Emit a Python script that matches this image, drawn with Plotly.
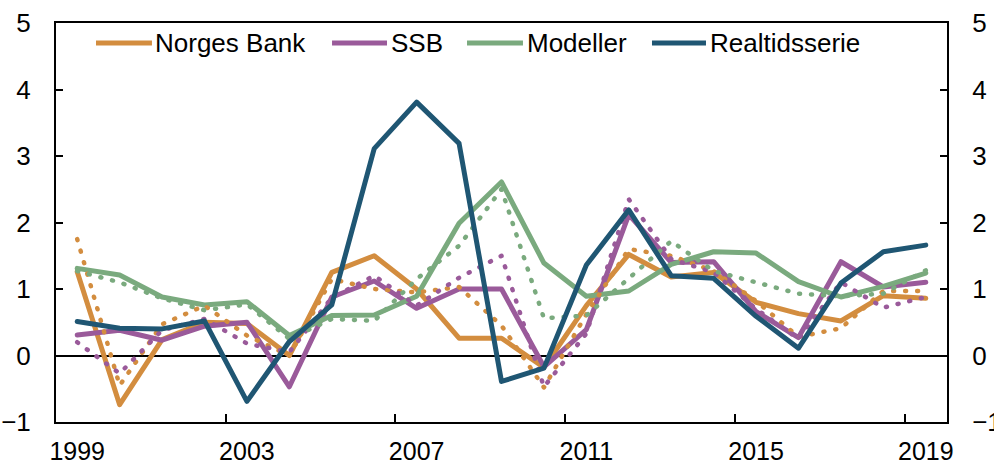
import plotly.graph_objects as go

years = list(range(1999, 2020))
tick_years = [1999, 2003, 2007, 2011, 2015, 2019]
tick_bounds = [2002.5, 2006.5, 2010.5, 2014.5, 2018.5]

norges_bank = [1.26, -0.74, 0.24, 0.5, 0.48, 0.0, 1.25, 1.5, 1.0, 0.26, 0.26, -0.18, 0.75, 1.52, 1.18, 1.25, 0.8, 0.63, 0.52, 0.9, 0.86]
ssb = [0.31, 0.38, 0.23, 0.44, 0.5, -0.47, 0.88, 1.12, 0.71, 1.0, 1.0, -0.17, 0.39, 2.12, 1.4, 1.41, 0.66, 0.27, 1.41, 1.03, 1.1]
modeller = [1.31, 1.21, 0.88, 0.76, 0.81, 0.3, 0.6, 0.61, 0.89, 1.99, 2.61, 1.39, 0.89, 0.97, 1.37, 1.56, 1.54, 1.11, 0.88, 1.04, 1.24]
realtid = [0.51, 0.41, 0.4, 0.52, -0.69, 0.21, 0.76, 3.11, 3.81, 3.19, -0.39, -0.19, 1.36, 2.19, 1.2, 1.16, 0.59, 0.11, 1.09, 1.56, 1.66]

norges_bank_dot = [1.75, -0.45, 0.47, 0.75, 0.3, 0.0, 1.15, 1.0, 0.95, 1.03, 0.45, -0.48, 0.62, 1.6, 1.5, 1.27, 0.82, 0.28, 0.41, 0.97, 0.97]
ssb_dot = [0.2, -0.27, 0.38, 0.55, 0.18, 0.05, 0.87, 1.2, 0.75, 1.17, 1.5, -0.47, 0.33, 2.35, 1.45, 1.25, 0.7, 0.25, 1.1, 0.72, 0.88]
modeller_dot = [1.27, 1.1, 0.86, 0.68, 0.77, 0.25, 0.55, 0.52, 1.15, 1.65, 2.5, 0.56, 0.6, 1.17, 1.72, 1.27, 1.1, 0.93, 0.89, 0.93, 1.28]

names = ["Norges Bank", "SSB", "Modeller", "Realtidsserie"]
colors = ["#D38D3F", "#9A5A9A", "#7AAA7E", "#1F5673"]

FONT = "Liberation Sans, Arial, sans-serif"
FS = 26

fig = go.Figure()
dot = dict(width=4.5, dash="1px,11px")
fig.add_trace(go.Scatter(x=years, y=norges_bank, mode="lines", line=dict(color=colors[0], width=5)))
fig.add_trace(go.Scatter(x=years, y=ssb, mode="lines", line=dict(color=colors[1], width=5)))
fig.add_trace(go.Scatter(x=years, y=modeller, mode="lines", line=dict(color=colors[2], width=5)))
fig.add_trace(go.Scatter(x=years, y=norges_bank_dot, mode="lines", line=dict(color=colors[0], **dot)))
fig.add_trace(go.Scatter(x=years, y=ssb_dot, mode="lines", line=dict(color=colors[1], **dot)))
fig.add_trace(go.Scatter(x=years, y=modeller_dot, mode="lines", line=dict(color=colors[2], **dot)))
fig.add_trace(go.Scatter(x=years, y=realtid, mode="lines", yaxis="y2",
                         line=dict(color=colors[3], width=5)))

# manual legend (long line samples as in the original)
leg_y = 0.95
leg = [(0.0449, 0.1077, 0.1111), (0.3098, 0.3715, 0.376), (0.4613, 0.5241, 0.5286), (0.6689, 0.7295, 0.734)]
for (x0, x1, xt), nm, c in zip(leg, names, colors):
    fig.add_shape(type="line", xref="paper", yref="paper", x0=x0, x1=x1, y0=leg_y, y1=leg_y,
                  line=dict(color=c, width=5))
    fig.add_annotation(xref="paper", yref="paper", x=xt, y=leg_y, text=nm, showarrow=False,
                       xanchor="left", yanchor="middle", xshift=-2,
                       font=dict(family=FONT, size=FS, color="black"))

yax_common = dict(range=[-1, 5], dtick=1, ticks="inside", ticklen=7, tickwidth=2, tickcolor="black",
                  showline=True, linecolor="black", linewidth=2, automargin=False,
                  showgrid=False, ticklabelstandoff=18)

fig.update_layout(
    width=994, height=466,
    margin=dict(l=56, r=47, t=23, b=44, autoexpand=False),
    plot_bgcolor="white", paper_bgcolor="white",
    showlegend=False,
    font=dict(family=FONT, size=FS, color="black"),
    xaxis=dict(range=[1998.5, 2019.5], tickmode="array", tickvals=tick_years,
               ticktext=[str(y) for y in tick_years], ticks="", automargin=False,
               showline=True, linecolor="black", linewidth=2, mirror=True,
               showgrid=False, zeroline=False, ticklabelstandoff=6,
               tickfont=dict(size=25),
               minor=dict(tickmode="array", tickvals=tick_bounds, ticks="inside", ticklen=8,
                          tickcolor="black", tickwidth=2, showgrid=False)),
    yaxis=dict(**yax_common, mirror=True, zeroline=True, zerolinecolor="black", zerolinewidth=2),
    yaxis2=dict(**yax_common, overlaying="y", side="right", zeroline=False),
)

post = """
document.body.style.margin = '0';
document.body.style.padding = '0';
document.body.style.overflow = 'hidden';
var gd = document.getElementById('{plot_id}');
function fixCaps(){
  gd.querySelectorAll('.scatterlayer path.js-line').forEach(function(p){
    p.style.strokeLinecap = 'round'; p.style.strokeLinejoin = 'round';
  });
}
fixCaps();
gd.on('plotly_afterplot', fixCaps);
"""
fig.write_html("out.html", post_script=post, config={"displayModeBar": False})
